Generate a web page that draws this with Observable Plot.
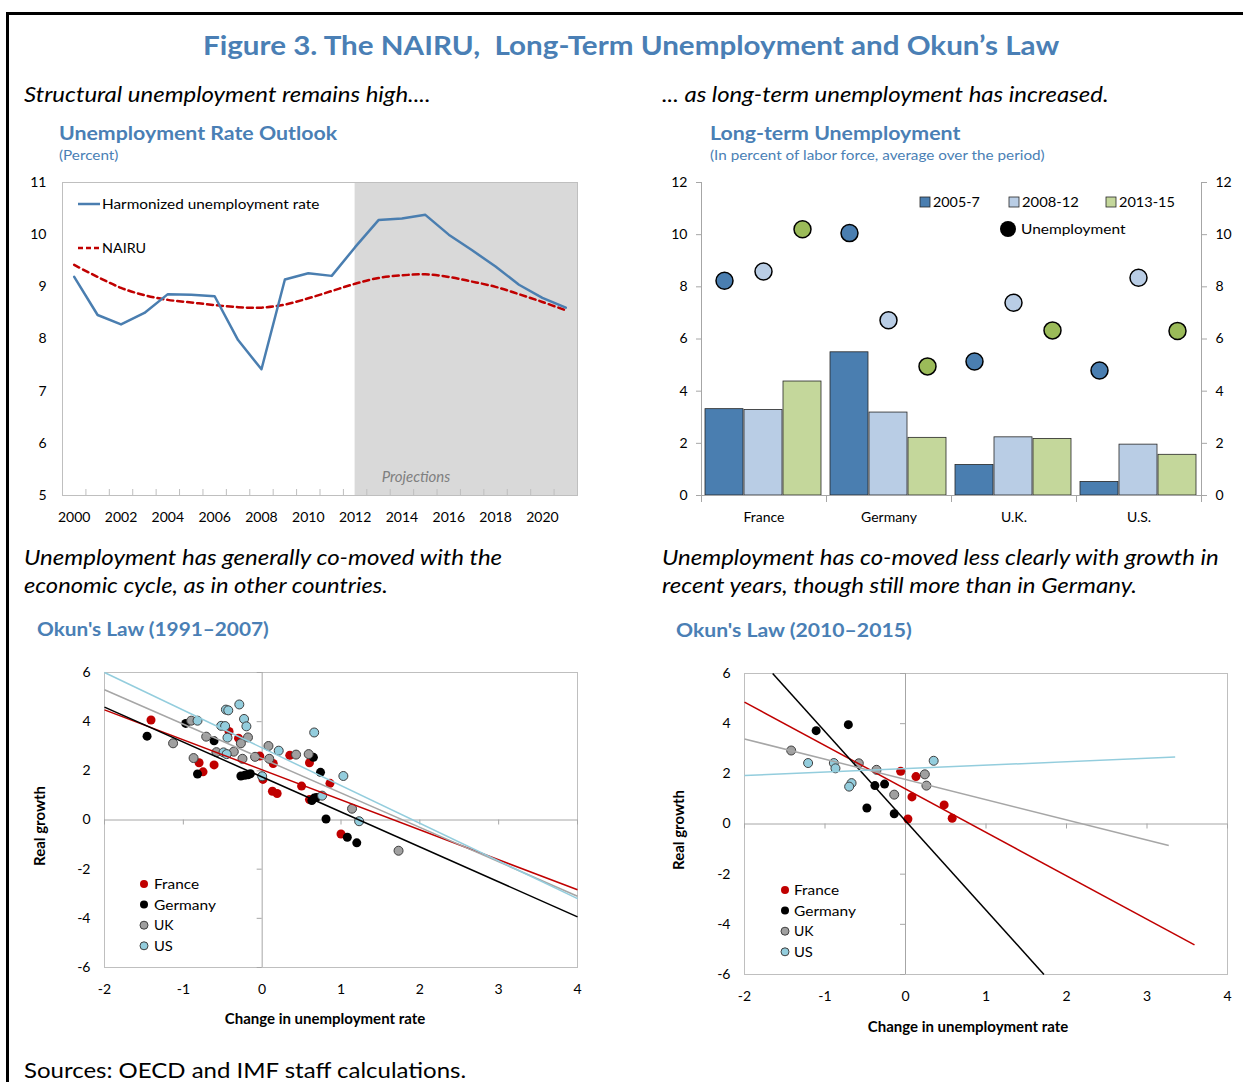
<!DOCTYPE html>
<html><head><meta charset="utf-8">
<script src="https://cdn.jsdelivr.net/npm/d3@7"></script>
<script src="https://cdn.jsdelivr.net/npm/@observablehq/plot@0.6"></script>
<style>
html,body{margin:0;padding:0;background:#fff}
body{width:1243px;height:1082px;position:relative;overflow:hidden;font-family:Lato,"Open Sans",sans-serif}
.t{position:absolute;white-space:pre;transform-origin:0 50%}
.chart{position:absolute}
.chart svg{overflow:visible;max-width:none}
[aria-label$="tick label"]{fill:#000}
[aria-label$="axis label"]{font-weight:700;font-size:15px;fill:#000}
#frame{position:absolute;left:6px;top:12px;width:1300px;height:1200px;border-top:3px solid #000;border-left:3px solid #000}
</style></head><body>
<div id="frame"></div>
<script>
// ---------------- DATA ----------------
// Unemployment Rate Outlook (France, percent)
const years = [2000,2001,2002,2003,2004,2005,2006,2007,2008,2009,2010,2011,2012,2013,2014,2015,2016,2017,2018,2019,2020,2021];
const harmonizedRate = [9.19,8.46,8.28,8.50,8.86,8.85,8.82,7.98,7.42,9.14,9.26,9.21,9.76,10.28,10.31,10.38,10.00,9.70,9.39,9.04,8.79,8.60];
const nairuRate = [9.42,9.19,8.98,8.84,8.75,8.70,8.65,8.61,8.60,8.66,8.78,8.92,9.06,9.17,9.22,9.24,9.19,9.10,9.00,8.86,8.71,8.55];
const projectionStart = 2012;
const outlookXTicks = [2000,2002,2004,2006,2008,2010,2012,2014,2016,2018,2020];
const outlookYTicks = [5,6,7,8,9,10,11];

// Long-term unemployment (bars) and unemployment (dots)
const ltCountries = ["France","Germany","U.K.","U.S."];
const ltPeriods = ["2005-7","2008-12","2013-15"];
const ltShare2005_7 = [3.31,5.49,1.17,0.52];
const ltShare2008_12 = [3.28,3.18,2.23,1.95];
const ltShare2013_15 = [4.37,2.21,2.17,1.56];
const unemp2005_7 = [8.23,10.06,5.14,4.79];
const unemp2008_12 = [8.59,6.72,7.39,8.35];
const unemp2013_15 = [10.21,4.95,6.33,6.31];
const ltYTicks = [0,2,4,6,8,10,12];

// Okun's Law scatter: [change in unemployment rate, real growth]
const okunCountries = ["France","Germany","UK","US"];
const okunXTicks = [-2,-1,0,1,2,3,4];
const okunYTicks = [-6,-4,-2,0,2,4,6];
const okun1France = [[-1.41,4.07],[-0.80,2.33],[-0.75,1.96],[-0.61,2.24],[-0.42,3.60],[-0.30,3.33],[-0.03,2.60],[0.01,1.65],[0.13,1.17],[0.19,1.08],[0.14,2.30],[0.35,2.63],[0.50,1.38],[0.60,2.33],[0.60,0.83],[0.86,1.49],[1.00,-0.57]];
const okun1Germany = [[-1.46,3.41],[-0.97,3.93],[-0.82,1.87],[-0.61,3.22],[-0.27,1.79],[-0.22,1.82],[-0.18,1.84],[-0.15,1.88],[0.65,2.55],[0.74,1.94],[0.63,0.79],[0.66,0.89],[0.69,0.92],[0.81,0.04],[1.08,-0.70],[1.20,-0.93]];
const okun1UK = [[-1.13,3.12],[-0.90,4.04],[-0.87,2.52],[-0.71,3.39],[-0.58,2.76],[-0.36,2.78],[-0.27,3.12],[-0.25,2.49],[-0.18,3.36],[-0.09,2.57],[0.08,3.01],[0.09,2.49],[0.43,2.66],[0.59,2.68],[1.14,0.46],[1.73,-1.25]];
const okun1US = [[-0.82,4.04],[-0.52,3.83],[-0.47,3.82],[-0.46,4.49],[-0.43,4.46],[-0.29,4.70],[-0.23,4.11],[-0.20,3.81],[-0.44,3.35],[-0.49,2.75],[-0.45,2.68],[0.00,1.78],[0.21,2.82],[0.66,3.56],[0.76,0.99],[1.03,1.79],[1.23,-0.05]];
// fitted lines [x1, y1, x2, y2]
const okun1Lines = [[-2,4.48,4,-2.84],[-2,4.59,4,-3.94],[-2,5.30,4,-3.10],[-2,6.00,4,-3.20]];

const okun2France = [[-0.06,2.10],[0.13,1.89],[0.08,1.08],[0.03,0.20],[0.48,0.76],[0.58,0.23]];
const okun2Germany = [[-1.11,3.72],[-0.71,3.96],[-0.48,0.64],[-0.38,1.53],[-0.26,1.59],[-0.14,0.41]];
const okun2UK = [[-1.42,2.93],[-0.58,2.42],[-0.36,2.16],[-0.14,1.17],[0.24,1.98],[0.26,1.53]];
const okun2US = [[-1.21,2.43],[-0.89,2.43],[-0.87,2.22],[-0.67,1.63],[-0.70,1.49],[0.35,2.52]];
const okun2Lines = [[-2,4.86,3.59,-4.82],[-1.65,6.00,1.72,-6.00],[-2,3.39,3.27,-0.86],[-2,1.93,3.35,2.67]];

// ---------------- HELPERS ----------------
const body = document.body;
function addText(s, left, cy, size, o = {}) {
  const el = document.createElement("div");
  el.className = "t";
  el.textContent = s;
  Object.assign(el.style, {
    left: left + "px", top: (cy - size / 2) + "px", fontSize: size + "px", lineHeight: size + "px",
    fontWeight: o.bold ? "700" : "400", fontStyle: o.italic ? "italic" : "normal", color: o.color || "#000"
  });
  if (o.w) el.dataset.w = o.w;
  body.appendChild(el);
  return el;
}
function place(node, left, top, w) {
  const d = document.createElement("div");
  d.className = "chart";
  d.style.left = left + "px"; d.style.top = top + "px"; d.style.width = w + "px";
  d.appendChild(node);
  body.appendChild(d);
}
function nudge(svg, label, dx, dy) {
  const g = svg.querySelector(`g[aria-label="${label}"]`);
  if (g) g.setAttribute("transform", `${g.getAttribute("transform") || ""} translate(${dx},${dy})`);
}
const plotStyle = {fontFamily: "Lato, sans-serif", fontSize: "14px", color: "#000", background: "none", overflow: "visible"};
const blue = "#4a7fb5";

// ---------------- TEXTS ----------------
addText("Figure 3. The NAIRU,  Long-Term Unemployment and Okun\u2019s Law", 203, 44, 27, {bold: true, color: blue, w: 856});
addText("Structural unemployment remains high....", 24, 94, 22, {italic: true, w: 407});
addText("... as long-term unemployment has increased.", 662, 94, 22, {italic: true, w: 446});
addText("Unemployment Rate Outlook", 59, 132, 19, {bold: true, color: blue, w: 278});
addText("(Percent)", 59, 155, 14, {color: blue, w: 59});
addText("Long-term Unemployment", 710, 132, 19, {bold: true, color: blue, w: 250});
addText("(In percent of labor force, average over the period)", 710, 155, 14, {color: blue, w: 335});
addText("Unemployment has generally co-moved with the", 24, 557, 22, {italic: true, w: 478});
addText("economic cycle, as in other countries.", 24, 585, 22, {italic: true, w: 364});
addText("Unemployment has co-moved less clearly with growth in", 662, 557, 22, {italic: true, w: 557});
addText("recent years, though still more than in Germany.", 662, 585, 22, {italic: true, w: 475});
addText("Okun's Law (1991\u20132007)", 37, 628, 19, {bold: true, color: blue, w: 232});
addText("Okun's Law (2010\u20132015)", 676, 629, 19, {bold: true, color: blue, w: 236});
addText("Sources: OECD and IMF staff calculations.", 24, 1069, 21, {w: 442});

// ---------------- CHART 1 ----------------
const outlook = years.map((year, i) => ({year, rate: harmonizedRate[i], nairu: nairuRate[i]}));
const xDom = [years[0] - 0.5, years[years.length - 1] + 0.5];
const yDom1 = [outlookYTicks[0], outlookYTicks[outlookYTicks.length - 1]];
const boundaries = years.slice(1).map(y => y - 0.5);
const c1 = Plot.plot({
  width: 567, height: 365, marginLeft: 42, marginRight: 10, marginTop: 12, marginBottom: 40,
  style: plotStyle,
  x: {type: "linear", domain: xDom, ticks: outlookXTicks, tickFormat: d => String(d), tickSize: 0, tickPadding: 17, label: null},
  y: {domain: yDom1, ticks: outlookYTicks, tickFormat: d => String(d), tickSize: 0, tickPadding: 16, label: null},
  marks: [
    Plot.rect([projectionStart], {x1: d => d, x2: xDom[1], y1: yDom1[0], y2: yDom1[1], fill: "#d9d9d9"}),
    Plot.frame({stroke: "#bfbfbf"}),
    Plot.ruleX(boundaries, {y1: yDom1[0], y2: yDom1[0], insetTop: -6, stroke: "#bfbfbf"}),
    Plot.line(outlook, {x: "year", y: "nairu", stroke: "#c00000", strokeWidth: 2.5, strokeDasharray: "6,4", curve: "catmull-rom"}),
    Plot.line(outlook, {x: "year", y: "rate", stroke: "#4a7eb0", strokeWidth: 2.5}),
    Plot.text(["Projections"], {x: 2014.6, y: 5.35, text: d => d, fontStyle: "italic", fill: "#7f7f7f", fontSize: 15})
  ]
});
place(c1, 20, 170, 567);

// ---------------- CHART 2 ----------------
const ltShares = [ltShare2005_7, ltShare2008_12, ltShare2013_15];
const ltUnemp = [unemp2005_7, unemp2008_12, unemp2013_15];
const ltBarColors = ["#4a7eb0", "#b9cde5", "#c4d79b"];
const ltDotColors = ["#4a7eb0", "#b9cde5", "#9bbb59"];
const ltRows = ltPeriods.map((p, j) => ltCountries.map((c, i) => ({country: c, period: p, share: ltShares[j][i], unemp: ltUnemp[j][i]})));
const c2PlotH = 365 - 12 - 40;
const c2marks = [
  Plot.frame({anchor: "left", facetAnchor: "left", stroke: "#a6a6a6"}),
  Plot.frame({anchor: "right", facetAnchor: "right", stroke: "#a6a6a6"}),
  Plot.frame({anchor: "left", stroke: "#a6a6a6", insetTop: c2PlotH, insetBottom: -6}),
  Plot.frame({anchor: "right", facetAnchor: "right", stroke: "#a6a6a6", insetTop: c2PlotH, insetBottom: -6})
];
ltRows.forEach((rows, j) => c2marks.push(Plot.barY(rows, {fx: "country", x: "period", y: "share", fill: ltBarColors[j], stroke: "#262626", strokeWidth: 0.8})));
c2marks.push(Plot.ruleY([0], {stroke: "#a6a6a6"}));
ltRows.forEach((rows, j) => c2marks.push(Plot.dot(rows, {fx: "country", x: "period", y: "unemp", r: 8.5, fill: ltDotColors[j], stroke: "#000", strokeWidth: 1.5})));
const c2 = Plot.plot({
  width: 602, height: 365, marginLeft: 60, marginRight: 41, marginTop: 12, marginBottom: 40,
  style: {...plotStyle, color: "#a6a6a6"},
  fx: {domain: ltCountries, padding: 0, axis: "bottom", tickSize: 0, tickPadding: 17, label: null},
  x: {domain: ltPeriods, paddingInner: 0.02, paddingOuter: 0.1, axis: null},
  y: {domain: [ltYTicks[0], ltYTicks[ltYTicks.length - 1]], ticks: ltYTicks, tickFormat: d => String(d), tickSize: 5, tickPadding: 9, axis: "both", label: null},
  marks: c2marks
});
place(c2, 640, 170, 602);

// ---------------- CHARTS 3 & 4 ----------------
const okunFill = ["#c00000", "#000000", "#a0a0a0", "#93cddd"];
const okunStroke = ["none", "none", "#404040", "#404040"];
const okunLineColor = ["#c00000", "#000000", "#a6a6a6", "#93cddd"];
function okunChart(sets, lines, w, h, mt, lblX, lblY) {
  const marks = [
    Plot.frame({stroke: "#bfbfbf"}),
    Plot.ruleX([0], {stroke: "#a6a6a6"}),
    Plot.ruleY([0], {stroke: "#a6a6a6"}),
    Plot.ruleX(okunXTicks.filter(d => d !== 0), {y1: 0, y2: 0, insetBottom: -5, stroke: "#a6a6a6"}),
    Plot.ruleY(okunYTicks.filter(d => d !== 0), {x1: 0, x2: 0, insetLeft: -5, stroke: "#a6a6a6"})
  ];
  sets.forEach((pts, k) => marks.push(Plot.dot(pts, {x: d => d[0], y: d => d[1], r: 4.5, fill: okunFill[k], stroke: okunStroke[k], strokeWidth: 1})));
  lines.forEach((l, k) => marks.push(Plot.link([l], {x1: d => d[0], y1: d => d[1], x2: d => d[2], y2: d => d[3], stroke: okunLineColor[k], strokeWidth: 1.5})));
  return Plot.plot({
    width: w, height: h, marginLeft: 84, marginRight: 15, marginTop: mt, marginBottom: 60,
    style: plotStyle,
    x: {domain: [okunXTicks[0], okunXTicks[okunXTicks.length - 1]], ticks: okunXTicks, tickFormat: d => String(d), tickSize: 0, tickPadding: 17, label: "Change in unemployment rate", labelAnchor: "center", labelArrow: "none", labelOffset: lblX},
    y: {domain: [okunYTicks[0], okunYTicks[okunYTicks.length - 1]], ticks: okunYTicks, tickFormat: d => String(d), tickSize: 0, tickPadding: 14, label: "Real growth", labelAnchor: "center", labelArrow: "none", labelOffset: lblY},
    marks
  });
}
const c3 = okunChart([okun1France, okun1Germany, okun1UK, okun1US], okun1Lines, 572, 372, 17, 56, 70);
nudge(c3, "x-axis label", -16, 0);
nudge(c3, "y-axis label", 0, 6);
place(c3, 20, 655, 572);
const c4 = okunChart([okun2France, okun2Germany, okun2UK, okun2US], okun2Lines, 582, 379, 18, 57, 71);
nudge(c4, "x-axis label", -18, 0);
nudge(c4, "y-axis label", 0, 6);
place(c4, 660, 655, 582);

// ---------------- LEGENDS ----------------
const ov = d3.select(body).append("svg").attr("width", 1243).attr("height", 1082)
  .style("position", "absolute").style("left", 0).style("top", 0).style("pointer-events", "none");
// chart 1
ov.append("line").attr("x1", 78).attr("x2", 100).attr("y1", 204).attr("y2", 204).attr("stroke", "#4a7eb0").attr("stroke-width", 2.5);
addText("Harmonized unemployment rate", 102, 204, 14, {w: 217});
ov.append("line").attr("x1", 78).attr("x2", 100).attr("y1", 248).attr("y2", 248).attr("stroke", "#c00000").attr("stroke-width", 2.5).attr("stroke-dasharray", "5,3");
addText("NAIRU", 102, 248, 14, {w: 44});
// chart 2
const lgX = [920, 1009, 1106], lgW = [47, 57, 56];
ltPeriods.forEach((p, j) => {
  ov.append("rect").attr("x", lgX[j]).attr("y", 197).attr("width", 10).attr("height", 10).attr("fill", ltBarColors[j]).attr("stroke", "#262626").attr("stroke-width", 0.8);
  addText(p, lgX[j] + 13, 202, 14, {w: lgW[j]});
});
ov.append("circle").attr("cx", 1008).attr("cy", 229).attr("r", 8).attr("fill", "#000");
addText("Unemployment", 1021, 229, 14, {w: 105});
// charts 3/4
const okW = [45, 62, 20, 19];
[[144, 154, 884], [785, 794, 890]].forEach(([cx, tx, y0]) => {
  okunCountries.forEach((c, k) => {
    const y = y0 + k * 20.6;
    ov.append("circle").attr("cx", cx).attr("cy", y).attr("r", 4).attr("fill", okunFill[k]).attr("stroke", okunStroke[k]);
    addText(c, tx, y, 14, {w: okW[k]});
  });
});

// ---------------- FIT TEXT WIDTHS ----------------
function fit() {
  document.querySelectorAll(".t[data-w]").forEach(el => {
    el.style.transform = "none";
    const w = el.offsetWidth;
    if (w > 0) el.style.transform = `scaleX(${el.dataset.w / w})`;
  });
}
fit();
if (document.fonts && document.fonts.ready) document.fonts.ready.then(fit);
</script>
</body></html>
